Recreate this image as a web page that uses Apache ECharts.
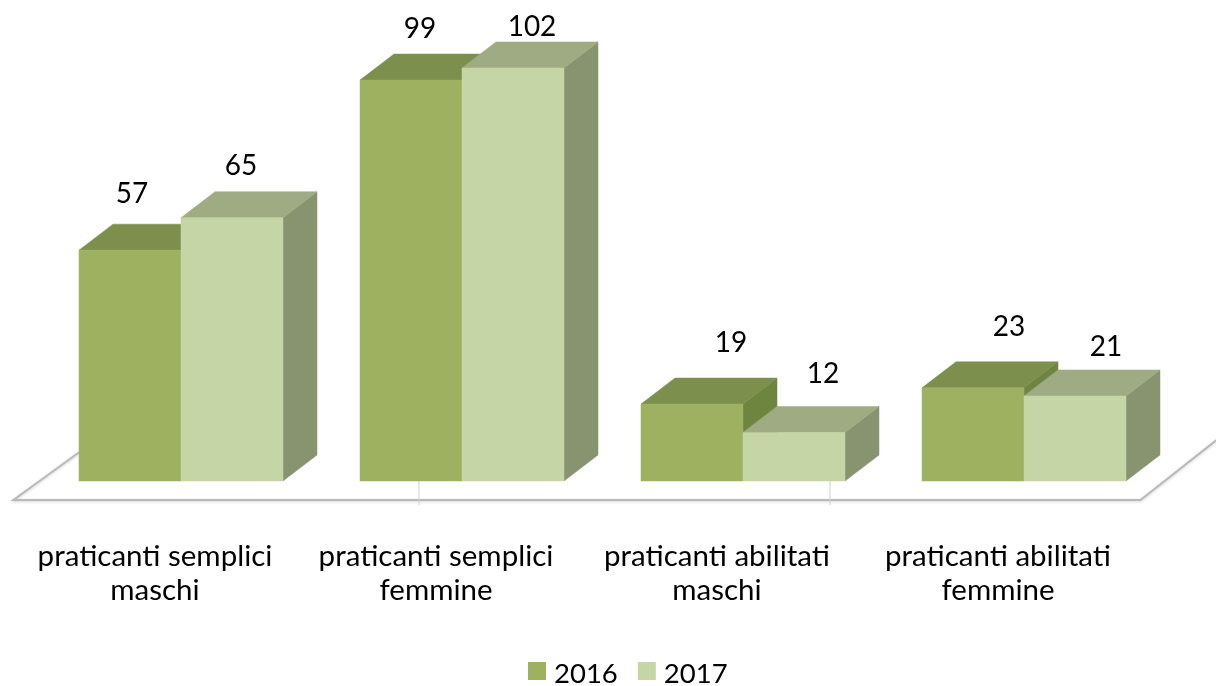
<!DOCTYPE html>
<html>
<head>
<meta charset="utf-8">
<script src="https://cdn.jsdelivr.net/npm/echarts@6/dist/echarts.min.js"></script>
<style>html,body{margin:0;padding:0;background:#fff}#c{width:1216px;height:686px}</style>
</head>
<body>
<div id="c"></div>
<script>
const categories = ['praticanti semplici\nmaschi','praticanti semplici\nfemmine','praticanti abilitati\nmaschi','praticanti abilitati\nfemmine'];
const years = ['2016','2017'];
const values2016 = [57,99,19,23];
const values2017 = [65,102,12,21];

const FONT = 'Lato, "Open Sans", sans-serif';
const DEPTH_X = 34, DEPTH_Y = -26;
const BAR_FRAC = 102 / 281;
const labelNudge2016 = [[2,-56],[9,-51],[39,-61],[36,-61]];
const labelNudge2017 = [[9,-52],[19,-41],[29,-58],[31,-49]];
const palette = {
  '2016': {front:'#9db160', top:'#7d8f4c', side:'#6e8540'},
  '2017': {front:'#c6d5a5', top:'#9fab83', side:'#88946f'}
};

function barRender(year, sign, nudge) {
  return function (params, api) {
    const i = api.value(0), v = api.value(1);
    const p = api.coord([i, v]), b = api.coord([i, 0]);
    const w = api.size([1, 0])[0] * BAR_FRAC;
    const x0 = sign < 0 ? p[0] - w : p[0], x1 = x0 + w;
    const c = palette[year];
    const poly = (pts, fill) => ({type:'polygon', shape:{points:pts}, style:{fill, stroke:fill, lineWidth:0.5}});
    return {type:'group', children:[
      poly([[x1,p[1]],[x1+DEPTH_X,p[1]+DEPTH_Y],[x1+DEPTH_X,b[1]+DEPTH_Y],[x1,b[1]]], c.side),
      poly([[x0,p[1]],[x1,p[1]],[x1+DEPTH_X,p[1]+DEPTH_Y],[x0+DEPTH_X,p[1]+DEPTH_Y]], c.top),
      poly([[x0,p[1]],[x1,p[1]],[x1,b[1]],[x0,b[1]]], c.front),
      {type:'text', style:{text:String(v), x:(x0+x1)/2+nudge[i][0], y:p[1]+nudge[i][1],
        align:'center', verticalAlign:'middle', font:'28px '+FONT, fill:'#000'}}
    ]};
  };
}

function floorRender(params, api) {
  const cs = params.coordSys;
  const base = cs.y + cs.height;
  const left = cs.x, right = cs.x + cs.width;
  const ticks = [cs.x + cs.width * 0.3367, cs.x + cs.width * 0.7024];
  const line = {stroke:'#b9b9b9', lineWidth:2, fill:null, shadowBlur:3, shadowColor:'rgba(0,0,0,0.18)', shadowOffsetY:1};
  return {type:'group', children:[
    {type:'polyline', shape:{points:[[left+39,base-29],[left-27,base+19],[right-24,base+19],[right+52,base-41]]}, style:line},
    ...ticks.map(x => ({type:'line', shape:{x1:x,y1:base,x2:x,y2:base+24}, style:{stroke:'#cfcfcf', lineWidth:1}}))
  ]};
}

const chart = echarts.init(document.getElementById('c'), null, {renderer:'canvas'});
chart.setOption({
  animation:false,
  backgroundColor:'#fff',
  grid:{left:40.5, width:1124, top:35.5, bottom:205, containLabel:false},
  legend:{data:years, left:528, top:660, padding:0, itemWidth:18, itemHeight:18, itemGap:20, icon:'rect',
    formatter:'{y|{name}}',
    textStyle:{color:'#000', padding:[0,0,0,3],
      rich:{y:{fontFamily:FONT, fontSize:27.5, color:'#000', padding:[6,0,0,0]}}}},
  xAxis:{type:'category', data:categories, axisLine:{show:false}, axisTick:{show:false}, splitLine:{show:false},
    axisLabel:{interval:0, margin:58, fontFamily:FONT, fontSize:29.5, color:'#000', lineHeight:34, padding:[0,52,0,0]}},
  yAxis:{type:'value', min:0, max:110, show:false},
  series:[
    {type:'custom', name:'floor', z:1, clip:false, data:[[0,0]], renderItem:floorRender, silent:true},
    {type:'custom', name:'2016', z:2, clip:false, itemStyle:{color:palette['2016'].front},
      data:values2016.map((v,i)=>[i,v]), encode:{x:0,y:1}, renderItem:barRender('2016',-1,labelNudge2016)},
    {type:'custom', name:'2017', z:3, clip:false, itemStyle:{color:palette['2017'].front},
      data:values2017.map((v,i)=>[i,v]), encode:{x:0,y:1}, renderItem:barRender('2017',1,labelNudge2017)}
  ]
});
</script>
</body>
</html>
